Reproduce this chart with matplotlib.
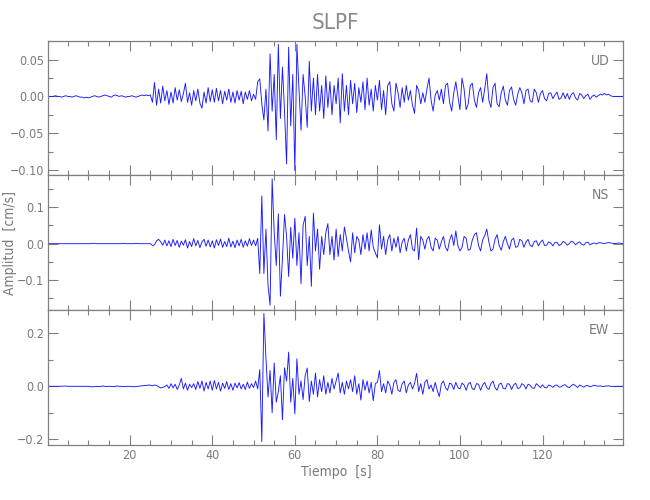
import numpy as np
import matplotlib
matplotlib.use('Agg')
import matplotlib.pyplot as plt
from matplotlib import font_manager
from matplotlib.ticker import MultipleLocator, FuncFormatter

# samples every 0.5 s, amplitudes in 1e-3 cm/s
dt = 0.5
ud = [0, 0, 0, 0, 1, 0, 0, -1, 0, 1, 0, 0, -1, 0, 1, 0, -1, -1, -2, -1,
      -2, -1, 0, 1, 0, -1, 0, 1, 2, 1, 0, -1, 1, 2, 1, 0, 1, 0, -1, 0,
      0, 1, 0, -1, 0, 1, 2, 1, 2, 1, 2, -8, 19, -12, 10, -9, 14, -6, 8, -11,
      6, -9, 12, -5, 9, -7, 4, 18, -8, 5, -12, 8, -6, 10, -9, -16, 6, -9, 12, -7,
      9, -8, 11, -6, 8, -10, 7, -5, 10, -8, 6, -9, 8, -5, 7, -10, 6, -4, 8, -6,
      3, -4, 20, 24, -10, -32, 10, -47, 58, -20, 30, -59, 71, -30, 40, -20, -92, 67, -40, 30,
      -101, 71, 10, -46, 30, 0, -42, 48, -20, 25, -25, 30, -20, 15, -30, 28, -15, 20, -25, 15,
      -10, 25, -36, 31, -20, 15, -25, 22, -10, 18, -22, 12, -8, 20, -18, 25, -12, 10, -20, 15,
      -5, 22, -18, 8, -25, 15, 20, -10, -20, 18, 5, -15, 12, -8, 15, -5, 8, -12, -23, 15,
      8, -10, 5, -8, 10, 25, -5, -20, 2, 8, -5, 10, -10, 15, 18, -8, -20, 5, 20, 0,
      -18, 25, 10, -18, -10, 15, 18, -5, -15, 5, 12, -8, 10, 31, -5, -15, 12, 18, -10, -14,
      5, 14, -5, -12, 8, 13, -4, -12, 3, 12, 5, -10, 8, 10, -6, -8, 10, 5, -8, 4,
      8, -3, -6, 4, 5, -3, 2, 6, -4, -2, 5, -3, 4, -4, 3, 5, -2, -5, 4, 2,
      -3, 1, 3, -4, 0, 2, -1, 1, 3, 2, 4, 2, 3, 1, 0, 0, 0, 0, 0, 0]
ns = [0, 0, 0, 0, 0, 0, 0, 0, 0, 0, 0, 0, 0, 0, 0, 0, 0, 0, 0, 0,
      0, 0, 1, 1, 0, 0, 0, 0, 0, 0, 0, 0, 0, 0, 0, 0, 0, 1, 0, 0,
      0, 0, 0, 1, 0, 0, 0, 0, 0, 0, 0, -5, -3, 8, 12, 5, -4, 10, -6, 8,
      -8, 12, -5, 9, -10, 7, -4, 11, -12, 6, -8, 14, -6, 9, -11, 5, 12, -7, 10, -9,
      8, -12, 11, -5, 13, -10, 6, -8, 15, -9, 7, -11, 10, -6, 12, -10, 8, -7, 14, -5,
      10, -6, 15, -82, 131, -82, 40, -114, -169, 178, 30, -60, 82, -144, -40, 80, 20, -90, 45, -40,
      70, -60, 30, -110, 50, 75, -60, 20, -117, 84, -20, 40, -70, 20, -30, 30, 55, -30, 20, -45,
      40, -35, 25, -20, 46, 15, -20, -50, 30, -25, 20, 10, -30, 25, -15, 30, -20, 38, -10, -25,
      -39, 52, -15, 20, -30, 10, 25, -20, 15, -10, 20, -25, 5, 15, -20, 10, 25, -15, -20, 43,
      -44, 20, 10, -15, 12, 20, -10, -20, 15, 10, -15, 5, 20, -10, -20, 10, 25, -5, 35, -5,
      -20, -10, 20, 15, -18, -15, 10, 25, 30, -5, -20, 10, 22, 40, 5, -20, -15, 12, 25, -5,
      -18, 5, 20, 0, -15, 10, 15, -10, -8, 12, 8, -10, 5, 12, -5, -8, 6, 8, -6, 4,
      10, -5, -4, 5, 2, -6, 3, 4, -5, -2, 6, 3, -4, 0, 7, 4, -3, 2, 5, -2,
      -4, 3, 4, -3, 0, 2, -1, 2, 3, 1, 0, 2, 3, 2, 1, 0, 1, 2, 1, 0]
ew = [0, 0, 0, 0, 0, 0, 0, 0, 1, 1, 0, 0, 0, 0, 0, 0, 0, 0, 0, 0,
      0, -1, -2, -1, 0, -1, 0, 1, 0, -1, 0, 0, -1, 0, 1, 0, 0, -1, -1, 0,
      0, -1, -2, -1, 0, 1, 2, 3, 3, 5, 4, 2, 5, 3, -2, -6, -4, -1, 5, -8,
      10, -6, 8, -12, 5, 30, -10, 12, -15, 8, -5, 10, -12, 18, -8, 20, -18, 15, -10, 20,
      -15, 22, -10, 15, -18, 12, -8, 18, -12, 10, -15, 12, -6, 14, -10, 8, -12, 16, -8, 10,
      -5, 20, -10, 63, -209, 275, 107, -40, 60, -100, 88, -60, -20, 40, -126, 70, 20, 129, -60, 30,
      -104, 104, -30, 20, -50, 40, 69, -57, 20, -30, 50, -40, 25, -20, 40, -30, 15, -25, 30, -10,
      20, 50, -25, 15, -30, 20, -10, 25, -20, 40, -30, 10, -52, 25, -15, 20, -25, 15, -54, 10,
      15, 59, -20, 10, -25, 20, 5, -30, 15, 25, -15, -20, 10, 20, -25, 5, 15, -10, 10, 49,
      -20, 10, -30, 15, 25, -10, 5, -20, 15, -15, -39, 10, 20, -5, -15, 12, 8, -12, 15, -5,
      -10, 12, 5, -15, 8, 15, -10, -12, 10, 8, -15, 5, 15, -5, -12, 10, 20, -5, -15, 8,
      12, -8, -10, 10, 8, -12, 5, 12, -8, -6, 10, 5, -10, 8, 4, -6, -8, 10, 3, -5,
      6, -4, -6, 5, 2, -4, 3, 5, -3, -2, 4, 6, -2, -5, 3, 8, 2, -4, 5, 1,
      -3, 2, 3, -2, 1, 4, 2, 0, 2, -1, 0, 1, 2, 0, 0, -1, 0, 0, 0, 0]

components = ['UD', 'NS', 'EW']
traces = [np.array(ud) * 1e-3, np.array(ns) * 1e-3, np.array(ew) * 1e-3]
ylims = [(-0.107, 0.0755), (-0.182, 0.1885), (-0.2215, 0.288)]
ymajor = [0.05, 0.1, 0.2]
yminor = [0.025, 0.05, 0.1]
ydec = [2, 1, 1]

t = np.arange(len(ud)) * dt

names = {f.name for f in font_manager.fontManager.ttflist}
font = 'DejaVu Sans'
for cand in ['Liberation Sans Narrow', 'DejaVu Sans Condensed']:
    if cand in names:
        font = cand
        break
plt.rcParams['font.family'] = font
if font == 'DejaVu Sans':
    plt.rcParams['font.stretch'] = 'condensed'

grey = '#808080'
txt = '#7a7a7a'


def make_fmt(nd):
    # long minus sign like the original plot
    return FuncFormatter(lambda v, pos: f'{v:.{nd}f}'.replace('-', '\u2212'))


fig = plt.figure(figsize=(6.5, 5), dpi=100)
left, width = 48 / 650, 575 / 650
bottoms = [1 - 175 / 500, 1 - 310 / 500, 1 - 445 / 500]
heights = [134 / 500, 135 / 500, 135 / 500]

for i, (comp, y) in enumerate(zip(components, traces)):
    ax = fig.add_axes([left, bottoms[i], width, heights[i]])
    ax.plot(t, y, color='#1a1aff', lw=0.65)
    ax.set_xlim(0.2, 139.5)
    ax.set_ylim(*ylims[i])
    ax.xaxis.set_major_locator(MultipleLocator(20))
    ax.xaxis.set_minor_locator(MultipleLocator(5))
    ax.yaxis.set_major_locator(MultipleLocator(ymajor[i]))
    ax.yaxis.set_minor_locator(MultipleLocator(yminor[i]))
    ax.yaxis.set_major_formatter(make_fmt(ydec[i]))
    ax.tick_params(which='both', direction='in', top=True, right=True,
                   color=grey, labelcolor=txt, labelsize=9, pad=3)
    ax.tick_params(which='major', length=7, width=0.8)
    ax.tick_params(which='minor', length=3.5, width=0.8)
    for sp in ax.spines.values():
        sp.set_color(grey)
        sp.set_linewidth(0.9)
    if i < 2:
        ax.tick_params(labelbottom=False)
    ax.text(0.976, 0.85, comp, transform=ax.transAxes, ha='right', va='center',
            color=txt, fontsize=10)

fig.text(335 / 650, 1 - 23 / 500, 'SLPF', ha='center', va='center', color='#8a8a8a', fontsize=16)
fig.text(10 / 650, 1 - 243 / 500, 'Amplitud  [cm/s]', rotation=90, ha='center', va='center',
         color=txt, fontsize=10)
fig.text(336 / 650, 1 - 472 / 500, 'Tiempo  [s]', ha='center', va='center', color=txt, fontsize=10)

fig.savefig('out.png', dpi=100)
